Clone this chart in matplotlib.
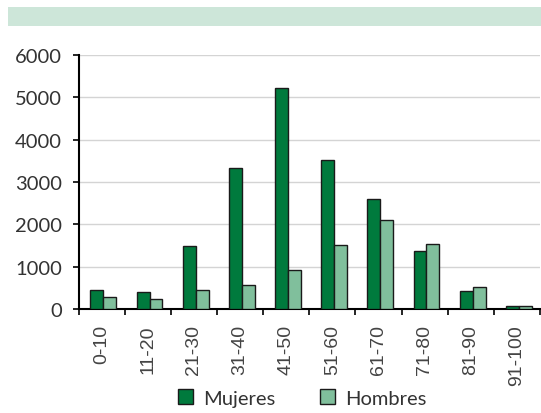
import matplotlib
matplotlib.use("Agg")
import matplotlib.pyplot as plt
import numpy as np
from matplotlib.patches import Rectangle

categories = ["0-10", "11-20", "21-30", "31-40", "41-50", "51-60", "61-70", "71-80", "81-90", "91-100"]
mujeres = [445, 390, 1490, 3320, 5220, 3520, 2600, 1360, 430, 65]
hombres = [290, 240, 440, 570, 930, 1510, 2110, 1540, 520, 70]
yticks = [0, 1000, 2000, 3000, 4000, 5000, 6000]

plt.rcParams['font.family'] = ['Lato', 'DejaVu Sans']

W, H = 541, 414
fig = plt.figure(figsize=(W / 100, H / 100), dpi=100)

# banner
fig.patches.append(Rectangle((8 / W, 1 - 27 / H), 1 - 8 / W, 19 / H,
                             transform=fig.transFigure, facecolor="#cde6d9",
                             edgecolor="none", zorder=0))

ax = fig.add_axes([78.5 / W, 1 - 310 / H, (540 - 78.5) / W, (310 - 56) / H])

x = np.arange(len(categories))
bw = 0.28
ax.bar(x - bw / 2 + 0.04, mujeres, bw, color="#007a3d", edgecolor="#1a1a1a", linewidth=1.0,
       label="Mujeres", zorder=3)
ax.bar(x + bw / 2 + 0.04, hombres, bw, color="#80bf9c", edgecolor="#1a1a1a", linewidth=1.0,
       label="Hombres", zorder=3)

ax.set_xlim(-0.5, len(categories) - 0.5)
ax.set_ylim(0, 6000)
ax.set_yticks(yticks)
ax.set_yticklabels([str(v) for v in yticks], fontsize=14.5, color="#333333")
ax.yaxis.grid(True, color="#d4d4d4", linewidth=1.0, zorder=0)
ax.set_axisbelow(True)

ax.set_xticks(x)
ax.set_xticklabels(categories, rotation=90, fontsize=14, color="#444444",
                   family=['Liberation Sans', 'DejaVu Sans'])
ax.tick_params(axis="x", which="major", length=0, pad=11)
ax.set_xticks(np.arange(len(categories) + 1) - 0.5, minor=True)
ax.tick_params(axis="x", which="minor", length=4, width=1.2, direction="out", color="black")
ax.tick_params(axis="y", length=4, width=1.2, direction="out", pad=8)

for s in ["top", "right"]:
    ax.spines[s].set_visible(False)
for s in ["left", "bottom"]:
    ax.spines[s].set_color("black")
    ax.spines[s].set_linewidth(1.5)

leg = fig.legend(loc="center", bbox_to_anchor=(302 / W, 1 - 399 / H), ncol=2, frameon=False,
                 fontsize=14.5, handlelength=0.75, handleheight=0.75, columnspacing=2.2,
                 handletextpad=0.5)
for t in leg.get_texts():
    t.set_color("#333333")

fig.savefig("out.png", dpi=100)
